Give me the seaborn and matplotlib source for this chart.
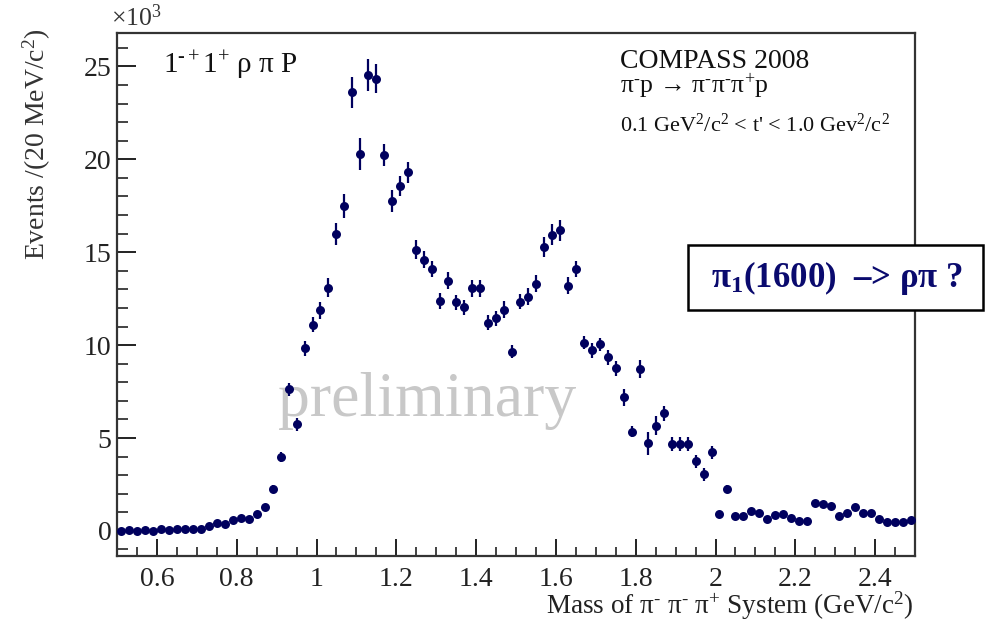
import numpy as np
import pandas as pd
import seaborn as sns
import matplotlib
matplotlib.use("Agg")
import matplotlib.pyplot as plt
from matplotlib.patches import Rectangle
from matplotlib.ticker import MultipleLocator

# 20 MeV bins from 0.5 to 2.5 GeV/c^2
BIN_LOW = 0.5
BIN_WIDTH = 0.02
N_BINS = 100

# events per bin, in units of 10^3
events = [
    0.00, 0.05, 0.00, 0.03, 0.00, 0.12, 0.05, 0.08, 0.12, 0.12,
    0.13, 0.27, 0.42, 0.35, 0.57, 0.67, 0.63, 0.90, 1.30, 2.28,
    3.98, 7.63, 5.75, 9.84, 11.10, 11.88, 13.10, 16.00, 17.50, 23.60,
    20.30, 24.55, 24.35, 20.25, 17.74, 18.56, 19.30, 15.14, 14.60, 14.10,
    12.37, 13.46, 12.30, 12.04, 13.05, 13.05, 11.20, 11.45, 11.90, 9.64,
    12.33, 12.60, 13.30, 15.27, 15.95, 16.18, 13.20, 14.10, 10.12, 9.73,
    10.04, 9.34, 8.75, 7.19, 5.34, 8.71, 4.71, 5.66, 6.33, 4.68,
    4.68, 4.68, 3.76, 3.06, 4.23, 0.90, 2.27, 0.80, 0.80, 1.07,
    0.95, 0.63, 0.85, 0.90, 0.68, 0.55, 0.52, 1.49, 1.43, 1.36,
    0.80, 0.96, 1.29, 0.98, 0.98, 0.65, 0.47, 0.47, 0.47, 0.60,
]

errors = [
    0.05, 0.05, 0.05, 0.05, 0.05, 0.06, 0.06, 0.06, 0.06, 0.06,
    0.07, 0.08, 0.09, 0.09, 0.10, 0.11, 0.11, 0.13, 0.16, 0.20,
    0.27, 0.35, 0.35, 0.40, 0.40, 0.45, 0.50, 0.60, 0.65, 0.85,
    0.85, 0.85, 0.80, 0.60, 0.60, 0.55, 0.55, 0.50, 0.45, 0.45,
    0.45, 0.45, 0.40, 0.40, 0.45, 0.45, 0.40, 0.40, 0.45, 0.35,
    0.40, 0.45, 0.45, 0.55, 0.55, 0.55, 0.45, 0.45, 0.35, 0.40,
    0.35, 0.40, 0.40, 0.45, 0.30, 0.50, 0.60, 0.50, 0.40, 0.40,
    0.40, 0.40, 0.35, 0.35, 0.35, 0.15, 0.20, 0.15, 0.15, 0.15,
    0.15, 0.15, 0.15, 0.15, 0.15, 0.15, 0.15, 0.15, 0.15, 0.15,
    0.15, 0.15, 0.15, 0.15, 0.15, 0.15, 0.15, 0.15, 0.15, 0.15,
]

x_ticks = [0.6, 0.8, 1.0, 1.2, 1.4, 1.6, 1.8, 2.0, 2.2, 2.4]
x_ticklabels = ["0.6", "0.8", "1", "1.2", "1.4", "1.6", "1.8", "2", "2.2", "2.4"]

mass = BIN_LOW + BIN_WIDTH * (np.arange(N_BINS) + 0.5)
df = pd.DataFrame({"mass": mass, "events": events, "err": errors})

NAVY = "#00005e"
SERIF = ["Liberation Serif", "DejaVu Serif"]
MI = "$^{\u2010}$"   # short superscript hyphen, as in the ROOT labels
PL = "$^{+}$"

sns.set_theme(style="white")
plt.rcParams["font.family"] = SERIF
plt.rcParams["mathtext.fontset"] = "custom"
plt.rcParams["mathtext.rm"] = "Liberation Serif"
plt.rcParams["mathtext.it"] = "Liberation Serif:italic"
plt.rcParams["mathtext.bf"] = "Liberation Serif:bold"

fig = plt.figure(figsize=(9.88, 6.23), dpi=100)
ax = fig.add_axes([117 / 988, 1 - 556 / 623, 798 / 988, 523 / 623])

ax.errorbar(df["mass"], df["events"], yerr=df["err"], fmt="none",
            ecolor=NAVY, elinewidth=1.6, capsize=0, zorder=2)
sns.scatterplot(data=df, x="mass", y="events", color=NAVY, s=42,
                edgecolor=NAVY, linewidth=0, ax=ax, zorder=3)

ax.set_xlim(0.5, 2.5)
ax.set_ylim(-1.35, 26.8)
ax.set_xlabel("")
ax.set_ylabel("")

ax.xaxis.set_minor_locator(MultipleLocator(0.05))
ax.yaxis.set_major_locator(MultipleLocator(5))
ax.yaxis.set_minor_locator(MultipleLocator(1))
ax.set_xticks(x_ticks)
ax.set_xticklabels(x_ticklabels)
ax.tick_params(which="both", direction="in", colors="#222222",
               bottom=True, left=True, top=False, right=False)
ax.tick_params(axis="x", which="major", length=12, width=1.4, labelsize=20, pad=8)
ax.tick_params(axis="x", which="minor", length=6.5, width=1.2)
ax.tick_params(axis="y", which="major", length=13.5, width=1.4, labelsize=20, pad=4)
ax.tick_params(axis="y", which="minor", length=8, width=1.2)

for sp in ax.spines.values():
    sp.set_color("#333333")
    sp.set_linewidth(1.6)

# ROOT-style axis titles
fig.text(37 / 988, 1 - 28 / 623, "Events /(20 MeV/c$^2$)", rotation=90,
         ha="center", va="top", fontsize=20, color="#333333")
fig.text(913 / 988, 1 - 606 / 623, f"Mass of π{MI} π{MI} π{PL} System (GeV/c$^2$)",
         ha="right", va="center", fontsize=19.5, color="#222222")
fig.text(111 / 988, 1 - 18 / 623, "×10$^3$", ha="left", va="center",
         fontsize=18.5, color="#333333")

ax.text(0.058, 0.937, "1$^{\u2010+}$1$^{+}$ ρ π P", transform=ax.transAxes,
        fontsize=21, color="#111111", ha="left", va="center")
ax.text(0.63, 0.945, "COMPASS 2008", transform=ax.transAxes,
        fontsize=20, color="#111111", ha="left", va="center")
ax.text(0.63, 0.897, f"π{MI}p → π{MI}π{MI}π{PL}p", transform=ax.transAxes,
        fontsize=18.5, color="#111111", ha="left", va="center")
ax.text(0.63, 0.824, "0.1 GeV$^2$/c$^2$ < t' < 1.0 Gev$^2$/c$^2$", transform=ax.transAxes,
        fontsize=16, color="#111111", ha="left", va="center")

ax.text(0.903, 7.0, "preliminary", fontsize=46, color="#c8c8c8",
        ha="left", va="center", zorder=1)

fig.patches.append(Rectangle((688 / 988, 1 - 310 / 623), 295 / 988, 65 / 623,
                             transform=fig.transFigure, facecolor="white",
                             edgecolor="black", linewidth=1.8, zorder=5))
fig.text(837 / 988, 1 - 278 / 623, "π$_{\\mathbf{1}}$(1600)  –> ρπ ?",
         ha="center", va="center", fontsize=25, fontweight="bold",
         color="#0a0a6e", zorder=6)

fig.savefig("out.png", dpi=100)
